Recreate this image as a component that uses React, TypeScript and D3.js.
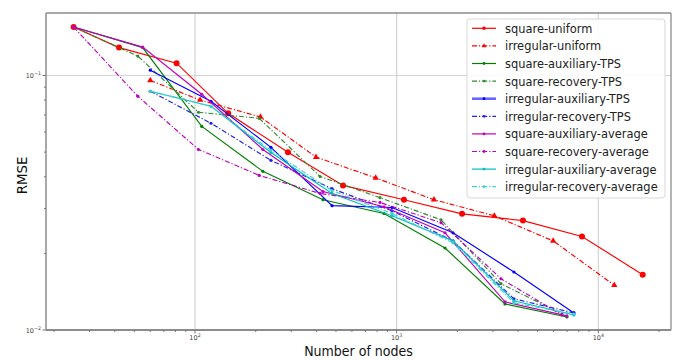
import React, { useEffect, useRef } from "react";
import * as d3 from "d3";

// node counts per series group
const squareUniformN = [25, 42, 81, 146, 289, 542, 1087, 2110, 4230, 8300, 16600];
const irregularUniformN = [60, 106, 211, 398, 787, 1531, 3050, 5970, 12000];
const squareAuxN = [25, 55, 108, 217, 431, 865, 1736, 3444, 6988];
const squareRecN = [25, 52, 104, 208, 417, 827, 1659, 3290, 6600];
const irregularN = [60, 120, 238, 478, 948, 1902, 3815, 7568];

// RMSE values
const squareUniform = [0.155, 0.1287, 0.1118, 0.071, 0.0499, 0.037, 0.0325, 0.0286, 0.0269, 0.0233, 0.0165];
const irregularUniform = [0.0956, 0.0801, 0.0687, 0.0478, 0.0396, 0.0325, 0.0281, 0.0224, 0.015];
const squareAuxTps = [0.155, 0.1287, 0.0631, 0.042, 0.0325, 0.0287, 0.021, 0.01266, 0.01125];
const squareRecTps = [0.155, 0.1192, 0.0717, 0.0679, 0.0401, 0.0331, 0.0271, 0.0152, 0.01156];
const irregularAuxTps = [0.1049, 0.0792, 0.0522, 0.0308, 0.0303, 0.0241, 0.0169, 0.01167];
const irregularRecTps = [0.0867, 0.0649, 0.0464, 0.0359, 0.0294, 0.0224, 0.01326, 0.01167];
const squareAuxAvg = [0.155, 0.1293, 0.0844, 0.0512, 0.035, 0.0305, 0.0241, 0.0129, 0.01136];
const squareRecAvg = [0.155, 0.0829, 0.0512, 0.0405, 0.0344, 0.0317, 0.0264, 0.0159, 0.01146];
const irregularAuxAvg = [0.0867, 0.0757, 0.0498, 0.0344, 0.0281, 0.0224, 0.01302, 0.01146];
const irregularRecAvg = [0.0867, 0.0757, 0.0508, 0.0353, 0.0287, 0.022, 0.01278, 0.01156];

const seriesNames = [
  "square-uniform", "irregular-uniform", "square-auxiliary-TPS", "square-recovery-TPS",
  "irregular-auxiliary-TPS", "irregular-recovery-TPS", "square-auxiliary-average",
  "square-recovery-average", "irregular-auxiliary-average", "irregular-recovery-average",
];

const DASHDOT = "5,2,1.2,2";

export default function App() {
  const ref = useRef<SVGSVGElement>(null);

  useEffect(() => {
    const W = 685, H = 360;
    const left = 46, right = 671, top = 13, bottom = 330;

    const svg = d3.select(ref.current);
    svg.selectAll("*").remove();

    const x = d3.scaleLog().domain([18.24, 22930]).range([left, right]);
    const y = d3.scaleLog().domain([0.01, 0.176]).range([bottom, top]);

    const series = [
      { n: squareUniformN, v: squareUniform, color: "#ff0000", dash: null, marker: "circle", r: 3 },
      { n: irregularUniformN, v: irregularUniform, color: "#ff0000", dash: DASHDOT, marker: "triangle", r: 3 },
      { n: squareAuxN, v: squareAuxTps, color: "#008000", dash: null, marker: "dot", r: 1.6 },
      { n: squareRecN, v: squareRecTps, color: "#2e8b2e", dash: DASHDOT, marker: "dot", r: 1.6 },
      { n: irregularN, v: irregularAuxTps, color: "#0000ff", dash: null, marker: "dot", r: 1.6 },
      { n: irregularN, v: irregularRecTps, color: "#2020ee", dash: DASHDOT, marker: "dot", r: 1.6 },
      { n: squareAuxN, v: squareAuxAvg, color: "#bf00bf", dash: null, marker: "dot", r: 1.6 },
      { n: squareRecN, v: squareRecAvg, color: "#bf00bf", dash: DASHDOT, marker: "dot", r: 1.6 },
      { n: irregularN, v: irregularAuxAvg, color: "#00bfbf", dash: null, marker: "dot", r: 1.6 },
      { n: irregularN, v: irregularRecAvg, color: "#40d0d0", dash: DASHDOT, marker: "dot", r: 1.6 },
    ];

    svg.append("rect").attr("width", W).attr("height", H).attr("fill", "white");

    // grid
    const g = svg.append("g");
    g.selectAll(".xgrid").data([100, 1000, 10000]).join("line")
      .attr("x1", d => x(d)).attr("x2", d => x(d))
      .attr("y1", top).attr("y2", bottom)
      .attr("stroke", "#d4d4d4").attr("stroke-width", 1.2);
    g.selectAll(".ygrid").data([0.1]).join("line")
      .attr("x1", left).attr("x2", right)
      .attr("y1", d => y(d)).attr("y2", d => y(d))
      .attr("stroke", "#d4d4d4").attr("stroke-width", 1.2);

    // series lines
    const line = d3.line<[number, number]>().x(d => x(d[0])).y(d => y(d[1]));
    series.forEach(s => {
      const pts = s.n.map((n, i) => [n, s.v[i]] as [number, number]);
      g.append("path").datum(pts)
        .attr("d", line)
        .attr("fill", "none")
        .attr("stroke", s.color)
        .attr("stroke-width", 1.15)
        .attr("stroke-dasharray", s.dash);
      if (s.marker === "triangle") {
        g.selectAll(null).data(pts).join("path")
          .attr("d", d3.symbol(d3.symbolTriangle, 17))
          .attr("transform", d => `translate(${x(d[0])},${y(d[1])})`)
          .attr("fill", s.color);
      } else {
        g.selectAll(null).data(pts).join("circle")
          .attr("cx", d => x(d[0])).attr("cy", d => y(d[1]))
          .attr("r", s.r).attr("fill", s.color);
      }
    });

    // frame
    const frame = svg.append("g").attr("stroke", "#8c8c8c").attr("fill", "none");
    frame.append("line").attr("x1", left).attr("x2", right).attr("y1", top).attr("y2", top).attr("stroke-width", 1.3);
    frame.append("line").attr("x1", right).attr("x2", right).attr("y1", top).attr("y2", bottom).attr("stroke-width", 1.3);
    frame.append("line").attr("x1", left).attr("x2", left).attr("y1", top).attr("y2", bottom).attr("stroke-width", 1.5);
    frame.append("line").attr("x1", left).attr("x2", right).attr("y1", bottom).attr("y2", bottom).attr("stroke-width", 1.8);

    // ticks
    const xMinor: number[] = [];
    const yMinor: number[] = [];
    [10, 100, 1000, 10000].forEach(dec => {
      for (let k = 2; k <= 9; k++) {
        const v = dec * k;
        if (v > 18.24 && v < 22930) xMinor.push(v);
      }
    });
    for (let k = 2; k <= 9; k++) yMinor.push(0.01 * k);

    const ticks = svg.append("g").attr("stroke", "#777");
    ticks.selectAll(".xminor").data(xMinor).join("line")
      .attr("x1", d => x(d)).attr("x2", d => x(d))
      .attr("y1", bottom).attr("y2", bottom + 2);
    ticks.selectAll(".xmajor").data([100, 1000, 10000]).join("line")
      .attr("x1", d => x(d)).attr("x2", d => x(d))
      .attr("y1", bottom).attr("y2", bottom + 3.5);
    ticks.selectAll(".yminor").data(yMinor).join("line")
      .attr("x1", left - 2).attr("x2", left)
      .attr("y1", d => y(d)).attr("y2", d => y(d));
    ticks.selectAll(".ymajor").data([0.1, 0.01]).join("line")
      .attr("x1", left - 3.5).attr("x2", left)
      .attr("y1", d => y(d)).attr("y2", d => y(d));

    const font = "'DejaVu Sans', sans-serif";

    // x tick labels
    const xl = svg.selectAll(".xlab").data([2, 3, 4]).join("text")
      .attr("x", d => x(Math.pow(10, d)))
      .attr("y", bottom + 10)
      .attr("text-anchor", "middle")
      .style("font-family", font).style("font-size", "6.5px").attr("fill", "#444");
    xl.append("tspan").text("10");
    xl.append("tspan").attr("dy", -3).style("font-size", "4.8px").text(d => `${d}`);

    // y tick labels
    const yl = svg.selectAll(".ylab").data([-1, -2]).join("text")
      .attr("x", left - 5)
      .attr("y", d => y(Math.pow(10, d)) + 2.5)
      .attr("text-anchor", "end")
      .style("font-family", font).style("font-size", "6.5px").attr("fill", "#444");
    yl.append("tspan").text("10");
    yl.append("tspan").attr("dy", -3).style("font-size", "4.8px").text(d => `\u2212${-d}`);

    // axis labels
    svg.append("text")
      .attr("transform", `translate(${(left + right) / 2}, 356) scale(0.9,1)`)
      .attr("text-anchor", "middle")
      .style("font-family", font).style("font-size", "14px").attr("fill", "#111")
      .text("Number of nodes");
    svg.append("text")
      .attr("transform", `translate(27, ${(top + bottom) / 2 + 4}) rotate(-90) scale(0.92,1)`)
      .attr("text-anchor", "middle")
      .style("font-family", font).style("font-size", "14.5px").attr("fill", "#111")
      .text("RMSE");

    // legend
    const lg = svg.append("g");
    lg.append("rect")
      .attr("x", 467).attr("y", 19).attr("width", 198).attr("height", 179)
      .attr("rx", 3).attr("fill", "white").attr("fill-opacity", 0.85)
      .attr("stroke", "#d8d8d8");
    series.forEach((s, i) => {
      const cy = 28.3 + i * 17.6;
      lg.append("line")
        .attr("x1", 472).attr("x2", 496).attr("y1", cy).attr("y2", cy)
        .attr("stroke", s.color)
        .attr("stroke-width", i === 4 ? 2.6 : 1.2)
        .attr("stroke-opacity", i === 4 ? 0.6 : 1)
        .attr("stroke-dasharray", s.dash);
      if (s.marker === "triangle") {
        lg.append("path").attr("d", d3.symbol(d3.symbolTriangle, 10)())
          .attr("transform", `translate(484,${cy})`).attr("fill", s.color);
      } else {
        lg.append("circle").attr("cx", 484).attr("cy", cy)
          .attr("r", s.marker === "circle" ? 1.8 : 1.4).attr("fill", s.color);
      }
      lg.append("text")
        .attr("transform", `translate(505, ${cy + 4.5}) scale(0.88,1)`)
        .style("font-family", font).style("font-size", "13px").attr("fill", "#222")
        .text(seriesNames[i]);
    });
  }, []);

  return (
    <svg ref={ref} width={685} height={360}
      style={{ position: "absolute", left: 0, top: 0, display: "block" }} />
  );
}
